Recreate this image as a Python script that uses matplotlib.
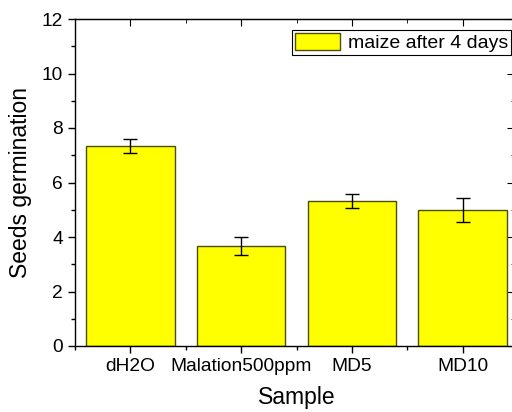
import matplotlib.pyplot as plt
from matplotlib.ticker import MultipleLocator, FixedLocator

plt.rcParams['font.family'] = ['Liberation Sans', 'DejaVu Sans']

samples = ['dH2O', 'Malation500ppm', 'MD5', 'MD10']
germination = [7.33, 3.67, 5.33, 5.0]
errors = [0.25, 0.33, 0.26, 0.44]
positions = [1, 2, 3, 4]

fig = plt.figure(figsize=(5.12, 4.12), dpi=100)
ax = fig.add_axes([75 / 512, 66 / 412, 443 / 512, 327 / 412])

ax.bar(positions, germination, width=0.8, color='#ffff00', edgecolor='#4d4d00',
       linewidth=1.0, label='maize after 4 days', zorder=2)
ax.errorbar(positions, germination, yerr=errors, fmt='none', ecolor='black',
            elinewidth=1.0, capsize=5, capthick=1.0, zorder=3)

ax.set_xlim(0.5, 4.5)
ax.set_ylim(0, 12)
ax.set_xticks(positions)
ax.set_xticklabels(samples, fontsize=13.8)
ax.xaxis.set_minor_locator(FixedLocator([0.5, 1.5, 2.5, 3.5]))
ax.yaxis.set_major_locator(MultipleLocator(2))
ax.yaxis.set_minor_locator(MultipleLocator(1))
ax.tick_params(axis='y', labelsize=13.8)
ax.tick_params(which='major', direction='out', length=5, width=1, top=False, right=False)
ax.tick_params(which='minor', direction='out', length=3, width=1, top=False, right=False)
for s in ax.spines.values():
    s.set_linewidth(1.0)

# mirrored inward ticks on top and right
top = ax.secondary_xaxis('top')
top.set_xticks(positions)
top.xaxis.set_minor_locator(FixedLocator([1.5, 2.5, 3.5]))
top.tick_params(which='both', direction='in', labeltop=False)
top.tick_params(which='major', length=5)
top.tick_params(which='minor', length=3)
right = ax.secondary_yaxis('right')
right.yaxis.set_major_locator(MultipleLocator(2))
right.yaxis.set_minor_locator(MultipleLocator(1))
right.tick_params(which='both', direction='in', labelright=False)
right.tick_params(which='major', length=8)
right.tick_params(which='minor', length=5)

ax.set_xlabel('Sample', fontsize=16.5, labelpad=8)
ax.set_ylabel('Seeds germination', fontsize=16.5, labelpad=7)

leg = ax.legend(loc='upper right', bbox_to_anchor=(511 / 512, 382 / 412),
                bbox_transform=fig.transFigure, fontsize=14, frameon=True,
                fancybox=False, framealpha=1, edgecolor='black', borderpad=0.15,
                handlelength=2.3, handleheight=1.0, handletextpad=0.4, borderaxespad=0)
leg.get_frame().set_linewidth(0.8)

fig.savefig('out.png', dpi=100)
